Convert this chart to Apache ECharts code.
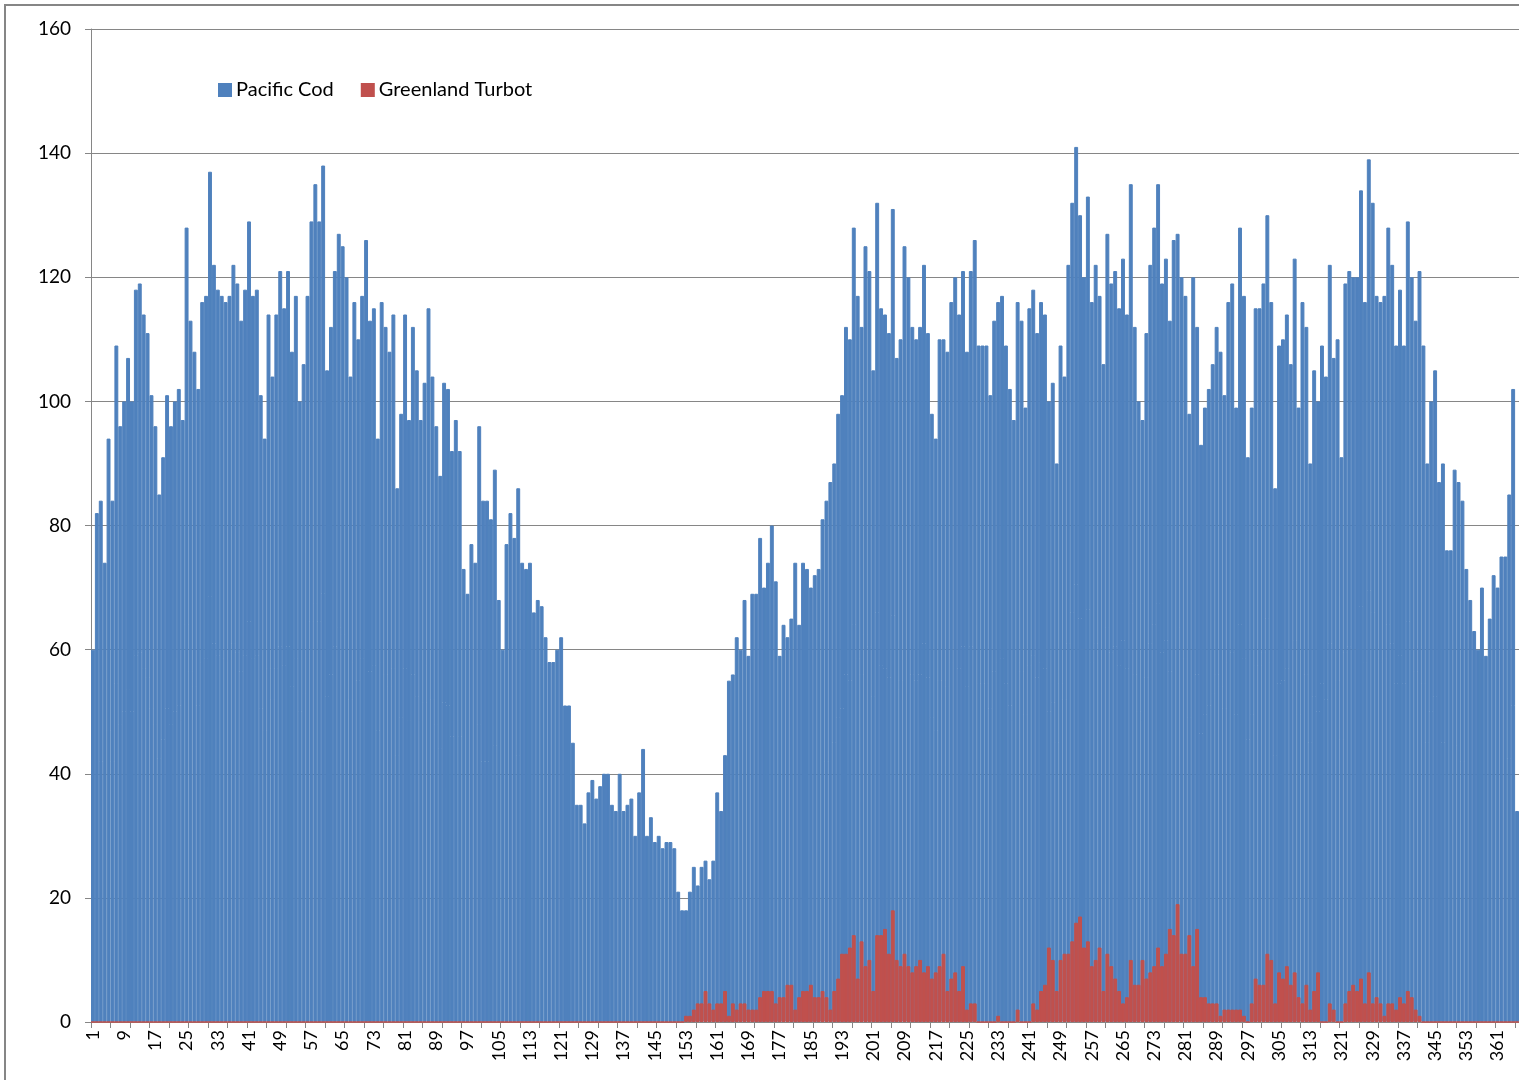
<!DOCTYPE html>
<html>
<head>
<meta charset="utf-8">
<script src="https://cdn.jsdelivr.net/npm/echarts@6/dist/echarts.min.js"></script>
<style>
html,body{margin:0;padding:0;background:#fff;}
#chart{width:1519px;height:1080px;}
</style>
</head>
<body>
<div id="chart"></div>
<script>
// Daily catch counts, day of year 1..366
const pacificCod = [
60,82,84,74,94,84,109,96,100,107,100,118,119,114,111,101,96,85,91,101,
96,100,102,97,128,113,108,102,116,117,137,122,118,117,116,117,122,119,113,118,
129,117,118,101,94,114,104,114,121,115,121,108,117,100,106,117,129,135,129,138,
105,112,121,127,125,120,104,116,110,117,126,113,115,94,116,112,108,114,86,98,
114,97,112,105,97,103,115,104,96,88,103,102,92,97,92,73,69,77,74,96,
84,84,81,89,68,60,77,82,78,86,74,73,74,66,68,67,62,58,58,60,
62,51,51,45,35,35,32,37,39,36,38,40,40,35,34,40,34,35,36,30,
37,44,30,33,29,30,28,29,29,28,21,18,18,21,25,22,25,26,23,26,
37,34,43,55,56,62,60,68,59,69,69,78,70,74,80,71,59,64,62,65,
74,64,74,73,70,72,73,81,84,87,90,98,101,112,110,128,117,112,125,121,
105,132,115,114,111,131,107,110,125,120,112,110,112,122,111,98,94,110,110,108,
116,120,114,121,108,121,126,109,109,109,101,113,116,117,109,102,97,116,113,99,
115,118,111,116,114,100,103,90,109,104,122,132,141,130,120,133,116,122,117,106,
127,119,121,115,123,114,135,112,100,97,111,122,128,135,119,123,113,126,127,120,
117,98,120,112,93,99,102,106,112,108,101,116,119,99,128,117,91,99,115,115,
119,130,116,86,109,110,114,106,123,99,116,112,90,105,100,109,104,122,107,110,
91,119,121,120,120,134,116,139,132,117,116,117,128,122,109,118,109,129,120,113,
121,109,90,100,105,87,90,76,76,89,87,84,73,68,63,60,70,59,65,72,
70,75,75,85,102,34
];
const greenlandTurbot = [
0,0,0,0,0,0,0,0,0,0,0,0,0,0,0,0,0,0,0,0,
0,0,0,0,0,0,0,0,0,0,0,0,0,0,0,0,0,0,0,0,
0,0,0,0,0,0,0,0,0,0,0,0,0,0,0,0,0,0,0,0,
0,0,0,0,0,0,0,0,0,0,0,0,0,0,0,0,0,0,0,0,
0,0,0,0,0,0,0,0,0,0,0,0,0,0,0,0,0,0,0,0,
0,0,0,0,0,0,0,0,0,0,0,0,0,0,0,0,0,0,0,0,
0,0,0,0,0,0,0,0,0,0,0,0,0,0,0,0,0,0,0,0,
0,0,0,0,0,0,0,0,0,0,0,0,1,1,2,3,3,5,3,2,
3,3,5,1,3,2,3,3,2,2,2,4,5,5,5,3,4,4,6,6,
2,4,5,5,6,4,4,5,4,2,5,7,11,11,12,14,7,13,9,10,
5,14,14,15,11,18,10,9,11,9,8,9,10,8,9,7,8,9,11,5,
7,8,5,9,2,3,3,0,0,0,0,0,1,0,0,0,0,2,0,0,
0,3,2,5,6,12,10,5,10,11,11,13,16,17,12,13,9,10,12,5,
11,9,7,5,3,4,10,6,6,10,7,8,9,12,9,11,15,14,19,11,
11,14,9,15,4,4,3,3,3,1,2,2,2,2,2,1,0,3,7,6,
6,11,10,3,8,7,9,6,8,4,3,6,2,5,8,0,0,3,2,0,
0,3,5,6,5,7,3,8,3,4,3,1,3,3,2,4,3,5,4,2,
1,0,0,0,0,0,0,0,0,0,0,0,0,0,0,0,0,0,0,0,
0,0,0,0,0,0
];
const days = pacificCod.map((_, i) => String(i + 1));
const yTicks = { min: 0, max: 160, step: 20 };
const seriesNames = ['Pacific Cod', 'Greenland Turbot'];

const chart = echarts.init(document.getElementById('chart'), null, { renderer: 'canvas' });
const font = 'Lato, "Open Sans", "Liberation Sans", sans-serif';
chart.setOption({
  animation: false,
  backgroundColor: '#ffffff',
  graphic: [{
    type: 'rect',
    shape: { x: 5, y: 5, width: 1700, height: 1200 },
    style: { fill: 'none', stroke: '#868686', lineWidth: 2 },
    silent: true, z: -1
  }],
  legend: {
    data: seriesNames,
    left: 213, top: 75,
    icon: 'rect', itemWidth: 12, itemHeight: 12, itemGap: 27,
    textStyle: { fontFamily: font, fontSize: 20, color: '#000' }
  },
  grid: { left: 91, top: 29, width: 1430, bottom: 58, containLabel: false },
  xAxis: {
    type: 'category',
    data: days,
    boundaryGap: true,
    axisLine: { show: true, lineStyle: { color: '#868686', width: 1 } },
    axisTick: { show: true, interval: 4, length: 6, lineStyle: { color: '#868686' } },
    axisLabel: { interval: 7, rotate: 90, fontFamily: font, fontSize: 18, color: '#000', margin: 8 },
    splitLine: { show: false }
  },
  yAxis: {
    type: 'value',
    min: yTicks.min, max: yTicks.max, interval: yTicks.step,
    axisLine: { show: true, lineStyle: { color: '#868686', width: 1 } },
    axisTick: { show: true, length: 6, lineStyle: { color: '#868686' } },
    axisLabel: { fontFamily: font, fontSize: 19, color: '#000', margin: 20 },
    splitLine: { show: true, lineStyle: { color: '#868686', width: 1 } }
  },
  series: [
    {
      name: seriesNames[0], type: 'bar', data: pacificCod,
      barCategoryGap: '0%', barGap: '-100%',
      itemStyle: { color: '#4F81BD', borderColor: '#4F81BD', borderWidth: 1 }
    },
    {
      name: seriesNames[1], type: 'bar', data: greenlandTurbot,
      barCategoryGap: '0%', barGap: '-100%',
      itemStyle: { color: '#C0504D', borderColor: '#C0504D', borderWidth: 1 }
    }
  ]
});
</script>
</body>
</html>
